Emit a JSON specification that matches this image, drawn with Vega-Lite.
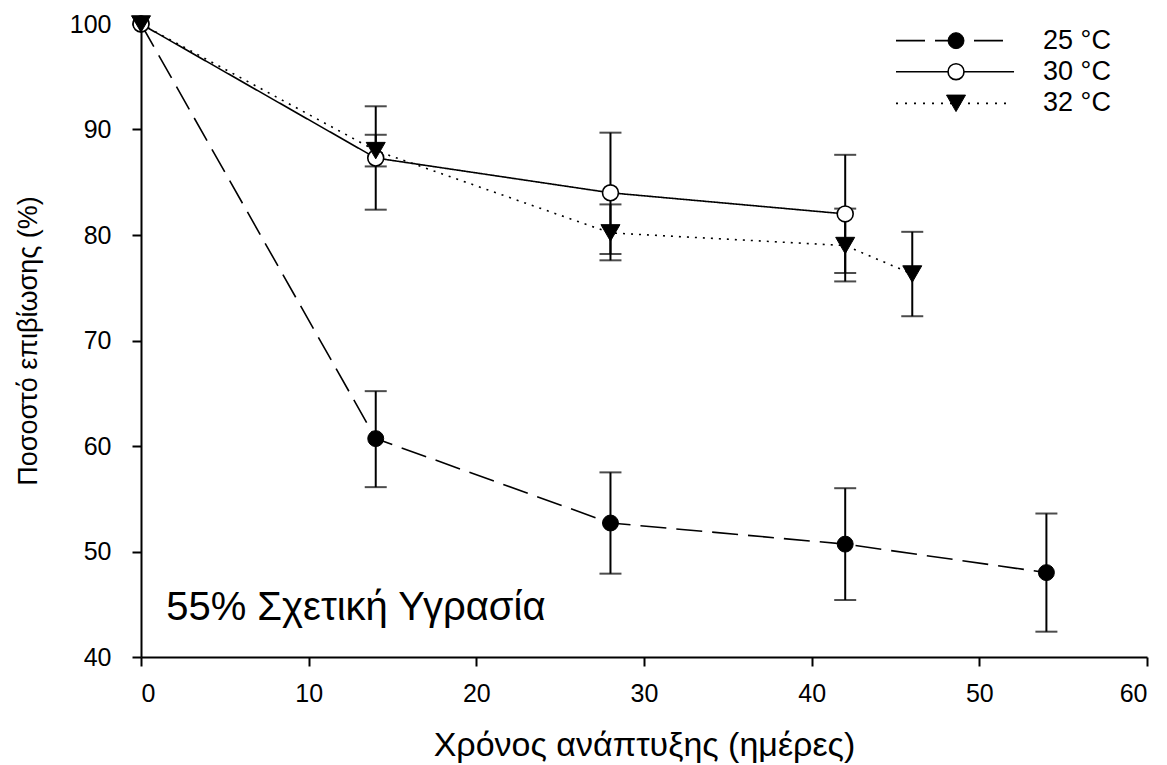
{
  "$schema": "https://vega.github.io/schema/vega-lite/v6.json",
  "width": 1006,
  "height": 633,
  "autosize": {"type": "none"},
  "padding": {"left": 141, "top": 24, "right": 20, "bottom": 108},
  "background": "white",
  "config": {
    "view": {"stroke": null},
    "font": "Liberation Sans",
    "axis": {
      "grid": false,
      "domainColor": "black",
      "domainWidth": 2,
      "tickColor": "black",
      "tickWidth": 2,
      "tickSize": 9,
      "labelColor": "black",
      "titleColor": "black",
      "labelFont": "Liberation Sans",
      "titleFont": "Liberation Sans",
      "titleFontWeight": "normal",
      "labelFontSize": 25
    }
  },
  "datasets": {
    "pts": [
      {"series": "25 °C", "day": 0, "pct": 100},
      {"series": "25 °C", "day": 14, "pct": 60.7, "lo": 56.1, "hi": 65.2},
      {"series": "25 °C", "day": 28, "pct": 52.7, "lo": 47.9, "hi": 57.5},
      {"series": "25 °C", "day": 42, "pct": 50.7, "lo": 45.4, "hi": 56.0},
      {"series": "25 °C", "day": 54, "pct": 48.0, "lo": 42.4, "hi": 53.6},
      {"series": "30 °C", "day": 0, "pct": 100},
      {"series": "30 °C", "day": 14, "pct": 87.3, "lo": 82.4, "hi": 92.2},
      {"series": "30 °C", "day": 28, "pct": 84.0, "lo": 78.2, "hi": 89.7},
      {"series": "30 °C", "day": 42, "pct": 82.0, "lo": 76.4, "hi": 87.6},
      {"series": "32 °C", "day": 0, "pct": 100},
      {"series": "32 °C", "day": 14, "pct": 88.0, "lo": 86.5, "hi": 89.5},
      {"series": "32 °C", "day": 28, "pct": 80.2, "lo": 77.6, "hi": 82.9},
      {"series": "32 °C", "day": 42, "pct": 79.0, "lo": 75.6, "hi": 82.5},
      {"series": "32 °C", "day": 46, "pct": 76.3, "lo": 72.3, "hi": 80.3}
    ],
    "notes": [{"note": "55% Σχετική Υγρασία"}],
    "leg25": [{"label": "25 °C"}],
    "leg30": [{"label": "30 °C"}],
    "leg32": [{"label": "32 °C"}]
  },
  "layer": [
    {
      "data": {"name": "notes"},
      "mark": {"type": "text", "align": "left", "baseline": "middle", "fontSize": 40, "color": "black"},
      "encoding": {
        "x": {"datum": 1.5, "type": "quantitative", "scale": {"domain": [0, 60], "nice": false}},
        "y": {"datum": 44.6, "type": "quantitative", "scale": {"domain": [40, 100], "nice": false, "zero": false}},
        "text": {"field": "note"}
      }
    },
    {
      "data": {"name": "leg25"},
      "layer": [
        {
          "mark": {"type": "rule", "color": "black", "strokeWidth": 1.6, "strokeDash": [29, 10]},
          "encoding": {
            "x": {"datum": 45.03, "type": "quantitative"},
            "x2": {"datum": 51.41},
            "y": {"datum": 98.42, "type": "quantitative"}
          }
        },
        {
          "mark": {"type": "point", "shape": "circle", "filled": true, "fill": "black", "stroke": "black", "strokeWidth": 1, "size": 254, "opacity": 1},
          "encoding": {
            "x": {"datum": 48.61, "type": "quantitative"},
            "y": {"datum": 98.42, "type": "quantitative"}
          }
        },
        {
          "mark": {"type": "text", "align": "left", "baseline": "middle", "fontSize": 27, "color": "black"},
          "encoding": {
            "x": {"datum": 53.8, "type": "quantitative"},
            "y": {"datum": 98.42, "type": "quantitative"},
            "text": {"field": "label"}
          }
        }
      ]
    },
    {
      "data": {"name": "leg30"},
      "layer": [
        {
          "mark": {"type": "rule", "color": "black", "strokeWidth": 1.6},
          "encoding": {
            "x": {"datum": 45.03, "type": "quantitative"},
            "x2": {"datum": 52.07},
            "y": {"datum": 95.48, "type": "quantitative"}
          }
        },
        {
          "mark": {"type": "point", "shape": "circle", "filled": true, "fill": "white", "stroke": "black", "strokeWidth": 1.6, "size": 254, "opacity": 1},
          "encoding": {
            "x": {"datum": 48.61, "type": "quantitative"},
            "y": {"datum": 95.48, "type": "quantitative"}
          }
        },
        {
          "mark": {"type": "text", "align": "left", "baseline": "middle", "fontSize": 27, "color": "black"},
          "encoding": {
            "x": {"datum": 53.8, "type": "quantitative"},
            "y": {"datum": 95.48, "type": "quantitative"},
            "text": {"field": "label"}
          }
        }
      ]
    },
    {
      "data": {"name": "leg32"},
      "layer": [
        {
          "mark": {"type": "rule", "color": "black", "strokeWidth": 1.6, "strokeDash": [2, 7]},
          "encoding": {
            "x": {"datum": 45.03, "type": "quantitative"},
            "x2": {"datum": 51.65},
            "y": {"datum": 92.48, "type": "quantitative"}
          }
        },
        {
          "mark": {"type": "point", "shape": "triangle-down", "filled": true, "fill": "black", "stroke": "black", "strokeWidth": 1, "size": 361, "opacity": 1},
          "encoding": {
            "x": {"datum": 48.61, "type": "quantitative"},
            "y": {"datum": 92.48, "type": "quantitative"}
          }
        },
        {
          "mark": {"type": "text", "align": "left", "baseline": "middle", "fontSize": 27, "color": "black"},
          "encoding": {
            "x": {"datum": 53.8, "type": "quantitative"},
            "y": {"datum": 92.48, "type": "quantitative"},
            "text": {"field": "label"}
          }
        }
      ]
    },
    {
      "data": {"name": "pts"},
      "encoding": {
        "x": {
          "field": "day", "type": "quantitative",
          "scale": {"domain": [0, 60], "nice": false},
          "axis": {
            "values": [0, 10, 20, 30, 40, 50, 60],
            "labelPadding": 15,
            "title": "Χρόνος ανάπτυξης (ημέρες)",
            "titleFontSize": 34,
            "titleBaseline": "middle",
            "titleY": 88
          }
        },
        "y": {
          "field": "pct", "type": "quantitative",
          "scale": {"domain": [40, 100], "nice": false, "zero": false},
          "axis": {
            "values": [40, 50, 60, 70, 80, 90, 100],
            "labelPadding": 21,
            "title": "Ποσοστό επιβίωσης (%)",
            "titleFontSize": 27,
            "titleBaseline": "middle",
            "titleX": -113
          }
        }
      },
      "layer": [
        {
          "mark": {"type": "line", "color": "black", "strokeWidth": 1.6},
          "encoding": {
            "strokeDash": {
              "field": "series", "type": "nominal",
              "scale": {"domain": ["25 °C", "30 °C", "32 °C"], "range": [[26, 10], [1, 0], [2, 6]]},
              "legend": null
            }
          }
        },
        {
          "transform": [{"filter": "datum.lo != null"}],
          "mark": {"type": "rule", "color": "black", "strokeWidth": 2},
          "encoding": {
            "y": {"field": "lo", "type": "quantitative"},
            "y2": {"field": "hi"}
          }
        },
        {
          "transform": [{"filter": "datum.lo != null"}],
          "mark": {"type": "tick", "orient": "horizontal", "color": "black", "size": 22, "thickness": 2},
          "encoding": {"y": {"field": "lo", "type": "quantitative"}}
        },
        {
          "transform": [{"filter": "datum.lo != null"}],
          "mark": {"type": "tick", "orient": "horizontal", "color": "black", "size": 22, "thickness": 2},
          "encoding": {"y": {"field": "hi", "type": "quantitative"}}
        },
        {
          "transform": [{"filter": "datum.series == '25 °C'"}],
          "mark": {"type": "point", "shape": "circle", "filled": true, "fill": "black", "stroke": "black", "strokeWidth": 1, "size": 254, "opacity": 1}
        },
        {
          "transform": [{"filter": "datum.series == '30 °C'"}],
          "mark": {"type": "point", "shape": "circle", "filled": true, "fill": "white", "stroke": "black", "strokeWidth": 1.6, "size": 254, "opacity": 1}
        },
        {
          "transform": [{"filter": "datum.series == '32 °C'"}],
          "mark": {"type": "point", "shape": "triangle-down", "filled": true, "fill": "black", "stroke": "black", "strokeWidth": 1, "size": 361, "opacity": 1}
        }
      ]
    }
  ]
}
